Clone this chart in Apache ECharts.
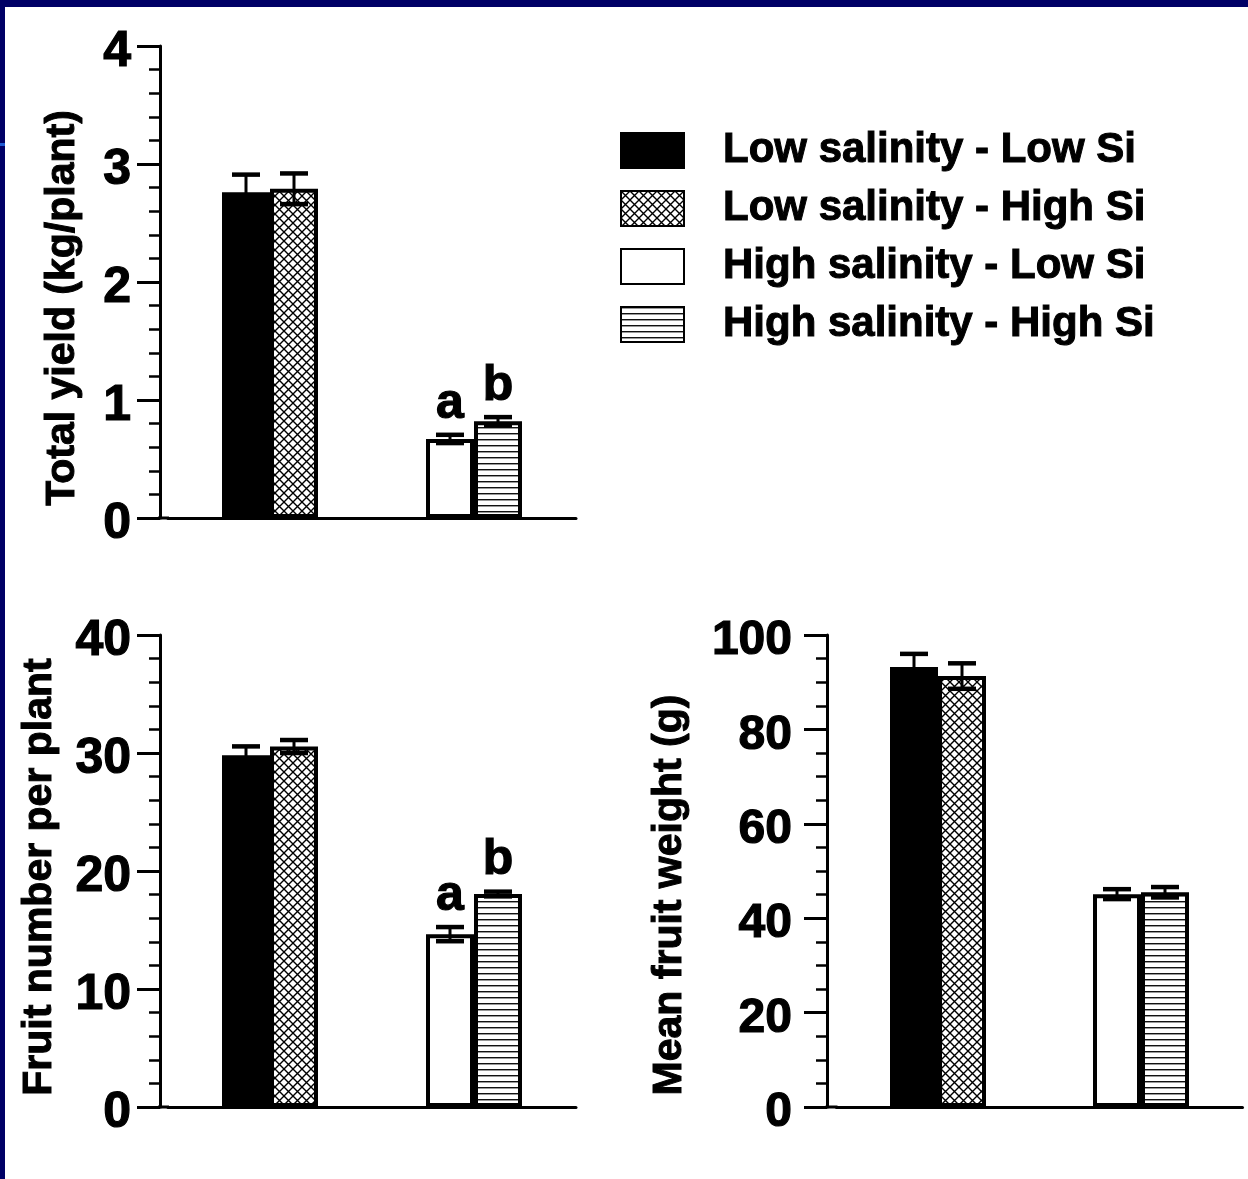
<!DOCTYPE html>
<html>
<head>
<meta charset="utf-8">
<script src="https://cdn.jsdelivr.net/npm/echarts@6/dist/echarts.min.js"></script>
<style>
  html, body { margin: 0; padding: 0; width: 1248px; height: 1179px; overflow: hidden; background: #000066; }
  #chart-container { position: absolute; left: 5px; top: 7px; width: 1243px; height: 1172px; background: #fff; }
  #mark { position: absolute; left: 0; top: 143px; width: 5px; height: 3px; background: #1e5ad2; }
</style>
</head>
<body>
<div id="mark"></div>
<div id="chart-container"></div>
<script>
var FONT = '"Liberation Sans", Arial, sans-serif';
var BAR_W = 48;

var groups = ['Low salinity', 'High salinity'];
var treatments = ['Low salinity - Low Si', 'Low salinity - High Si', 'High salinity - Low Si', 'High salinity - High Si'];

// total yield (kg/plant)
var yieldMean = [2.76, 2.79, 0.67, 0.82];
var yieldErr = [0.15, 0.13, 0.035, 0.035];
var yieldLetters = ['', '', 'a', 'b'];
var yieldRange = [0, 4, 1];

// fruit number per plant
var fruitMean = [29.8, 30.55, 14.65, 18.05];
var fruitErr = [0.76, 0.55, 0.6, 0.2];
var fruitLetters = ['', '', 'a', 'b'];
var fruitRange = [0, 40, 10];

// mean fruit weight (g)
var weightMean = [93.2, 91.3, 45.1, 45.5];
var weightErr = [2.8, 2.7, 1.05, 1.1];
var weightLetters = ['', '', '', ''];
var weightRange = [0, 100, 20];

function makePattern(w, h, draw) {
  var c = document.createElement('canvas');
  c.width = w; c.height = h;
  var ctx = c.getContext('2d');
  ctx.fillStyle = '#fff';
  ctx.fillRect(0, 0, w, h);
  draw(ctx, w, h);
  return { image: c, repeat: 'repeat' };
}

var crossFill = makePattern(9, 9, function (ctx, w, h) {
  ctx.strokeStyle = '#000';
  ctx.lineWidth = 1.4;
  ctx.beginPath();
  ctx.moveTo(-1, -1); ctx.lineTo(w + 1, h + 1);
  ctx.moveTo(w + 1, -1); ctx.lineTo(-1, h + 1);
  ctx.stroke();
});
var stripeFill = makePattern(4, 6, function (ctx, w) {
  ctx.fillStyle = '#111';
  ctx.fillRect(0, 0, w, 1);
  ctx.fillStyle = '#999';
  ctx.fillRect(0, 1, w, 1);
});
var fills = ['#000', crossFill, '#fff', stripeFill];

function errRender(letters) {
  return function (params, api) {
    var g = api.value(0), m = api.value(1), e = api.value(2);
    var off = (params.dataIndex % 2 === 0 ? -0.5 : 0.5) * BAR_W;
    var hi = api.coord([g, m + e]);
    var lo = api.coord([g, m - e]);
    var x = hi[0] + off;
    var half = 14;
    var kids = [
      { type: 'line', shape: { x1: x, y1: hi[1], x2: x, y2: lo[1] }, style: { stroke: '#000', lineWidth: 3 } },
      { type: 'line', shape: { x1: x - half, y1: hi[1], x2: x + half, y2: hi[1] }, style: { stroke: '#000', lineWidth: 4.5 } },
      { type: 'line', shape: { x1: x - half, y1: lo[1], x2: x + half, y2: lo[1] }, style: { stroke: '#000', lineWidth: 4.5 } }
    ];
    var t = letters[params.dataIndex];
    if (t) {
      kids.push({
        type: 'text', x: x, y: hi[1] - 6,
        style: {
          text: t, fill: '#000', fontSize: 50, fontWeight: 'bold', fontFamily: FONT,
          align: 'center', verticalAlign: 'bottom', stroke: '#000', lineWidth: 1.2
        }
      });
    }
    return { type: 'group', children: kids };
  };
}

function buildSeries(means, errs, letters, ax) {
  var out = [];
  treatments.forEach(function (name, i) {
    var g = i < 2 ? 0 : 1;
    out.push({
      name: name,
      type: 'bar',
      xAxisIndex: ax, yAxisIndex: ax,
      stack: 's' + ax + '_' + (i % 2),
      barWidth: BAR_W,
      barGap: '0%',
      data: groups.map(function (_, k) { return k === g ? means[i] : '-'; }),
      itemStyle: { color: fills[i], borderColor: '#000', borderWidth: 4 },
      emphasis: { disabled: true }
    });
  });
  out.push({
    type: 'custom',
    xAxisIndex: ax, yAxisIndex: ax,
    z: 5,
    silent: true,
    data: means.map(function (m, i) { return [i < 2 ? 0 : 1, m, errs[i]]; }),
    renderItem: errRender(letters)
  });
  return out;
}

function valueAxis(idx, range, minorSplit, name, nameGap, shift, offset, labelSize, labelMargin) {
  return {
    type: 'value', gridIndex: idx, offset: offset,
    min: range[0], max: range[1], interval: range[2],
    name: name, nameLocation: 'middle', nameGap: nameGap,
    nameTextStyle: {
      fontSize: 41, fontWeight: 'bold', fontFamily: FONT, color: '#000',
      textBorderColor: '#000', textBorderWidth: 1,
      padding: [0, shift * 2, 0, 0]
    },
    axisLine: { show: true, lineStyle: { color: '#000', width: 3 } },
    axisTick: { show: true, length: 23, lineStyle: { color: '#000', width: 3 } },
    minorTick: { show: true, splitNumber: minorSplit, length: 11, lineStyle: { color: '#000', width: 2.5 } },
    splitLine: { show: false },
    axisLabel: {
      margin: labelMargin,
      formatter: '{v|{value}}',
      rich: {
        v: {
          fontSize: labelSize, fontWeight: 'bold', fontFamily: FONT, color: '#000',
          textBorderColor: '#000', textBorderWidth: 1.2,
          lineHeight: labelSize, padding: [12, 0, 0, 0]
        }
      }
    }
  };
}

function catAxis(idx, ext) {
  return {
    type: 'category', gridIndex: idx, data: groups,
    axisLine: {
      show: true,
      symbol: ['rect', 'none'], symbolSize: [3, ext + 2], symbolOffset: [-ext / 2, 0],
      lineStyle: { color: '#000', width: 3 }
    },
    axisTick: { show: false },
    axisLabel: { show: false }
  };
}

var dom = document.getElementById('chart-container');
var myChart = echarts.init(dom, null, { renderer: 'canvas' });

var option = {
  animation: false,
  backgroundColor: '#fff',
  grid: [
    { left: 163, top: 39, width: 408, height: 472 },
    { left: 163, top: 628, width: 408, height: 472 },
    { left: 831.5, top: 628, width: 406, height: 472 }
  ],
  legend: {
    data: treatments,
    orient: 'vertical',
    left: 615, top: 122, padding: 0,
    itemWidth: 63, itemHeight: 35, itemGap: 15,
    selectedMode: false,
    icon: 'rect',
    textStyle: {
      fontSize: 42, fontWeight: 'bold', fontFamily: FONT, color: '#000', lineHeight: 42,
      textBorderColor: '#000', textBorderWidth: 1,
      padding: [0, 0, 0, 34]
    }
  },
  xAxis: [catAxis(0, 9), catAxis(1, 9), catAxis(2, 10)],
  yAxis: [
    valueAxis(0, yieldRange, 5, 'Total yield (kg/plant)', 77, 26, 8, 50, 29),
    valueAxis(1, fruitRange, 5, 'Fruit number per plant', 100, 6, 8, 50, 29),
    valueAxis(2, weightRange, 4, 'Mean fruit weight (g)', 137, 24, 9.5, 48, 35)
  ],
  series: [].concat(
    buildSeries(yieldMean, yieldErr, yieldLetters, 0),
    buildSeries(fruitMean, fruitErr, fruitLetters, 1),
    buildSeries(weightMean, weightErr, weightLetters, 2)
  )
};

myChart.setOption(option);
window.addEventListener('resize', myChart.resize);
</script>
</body>
</html>
